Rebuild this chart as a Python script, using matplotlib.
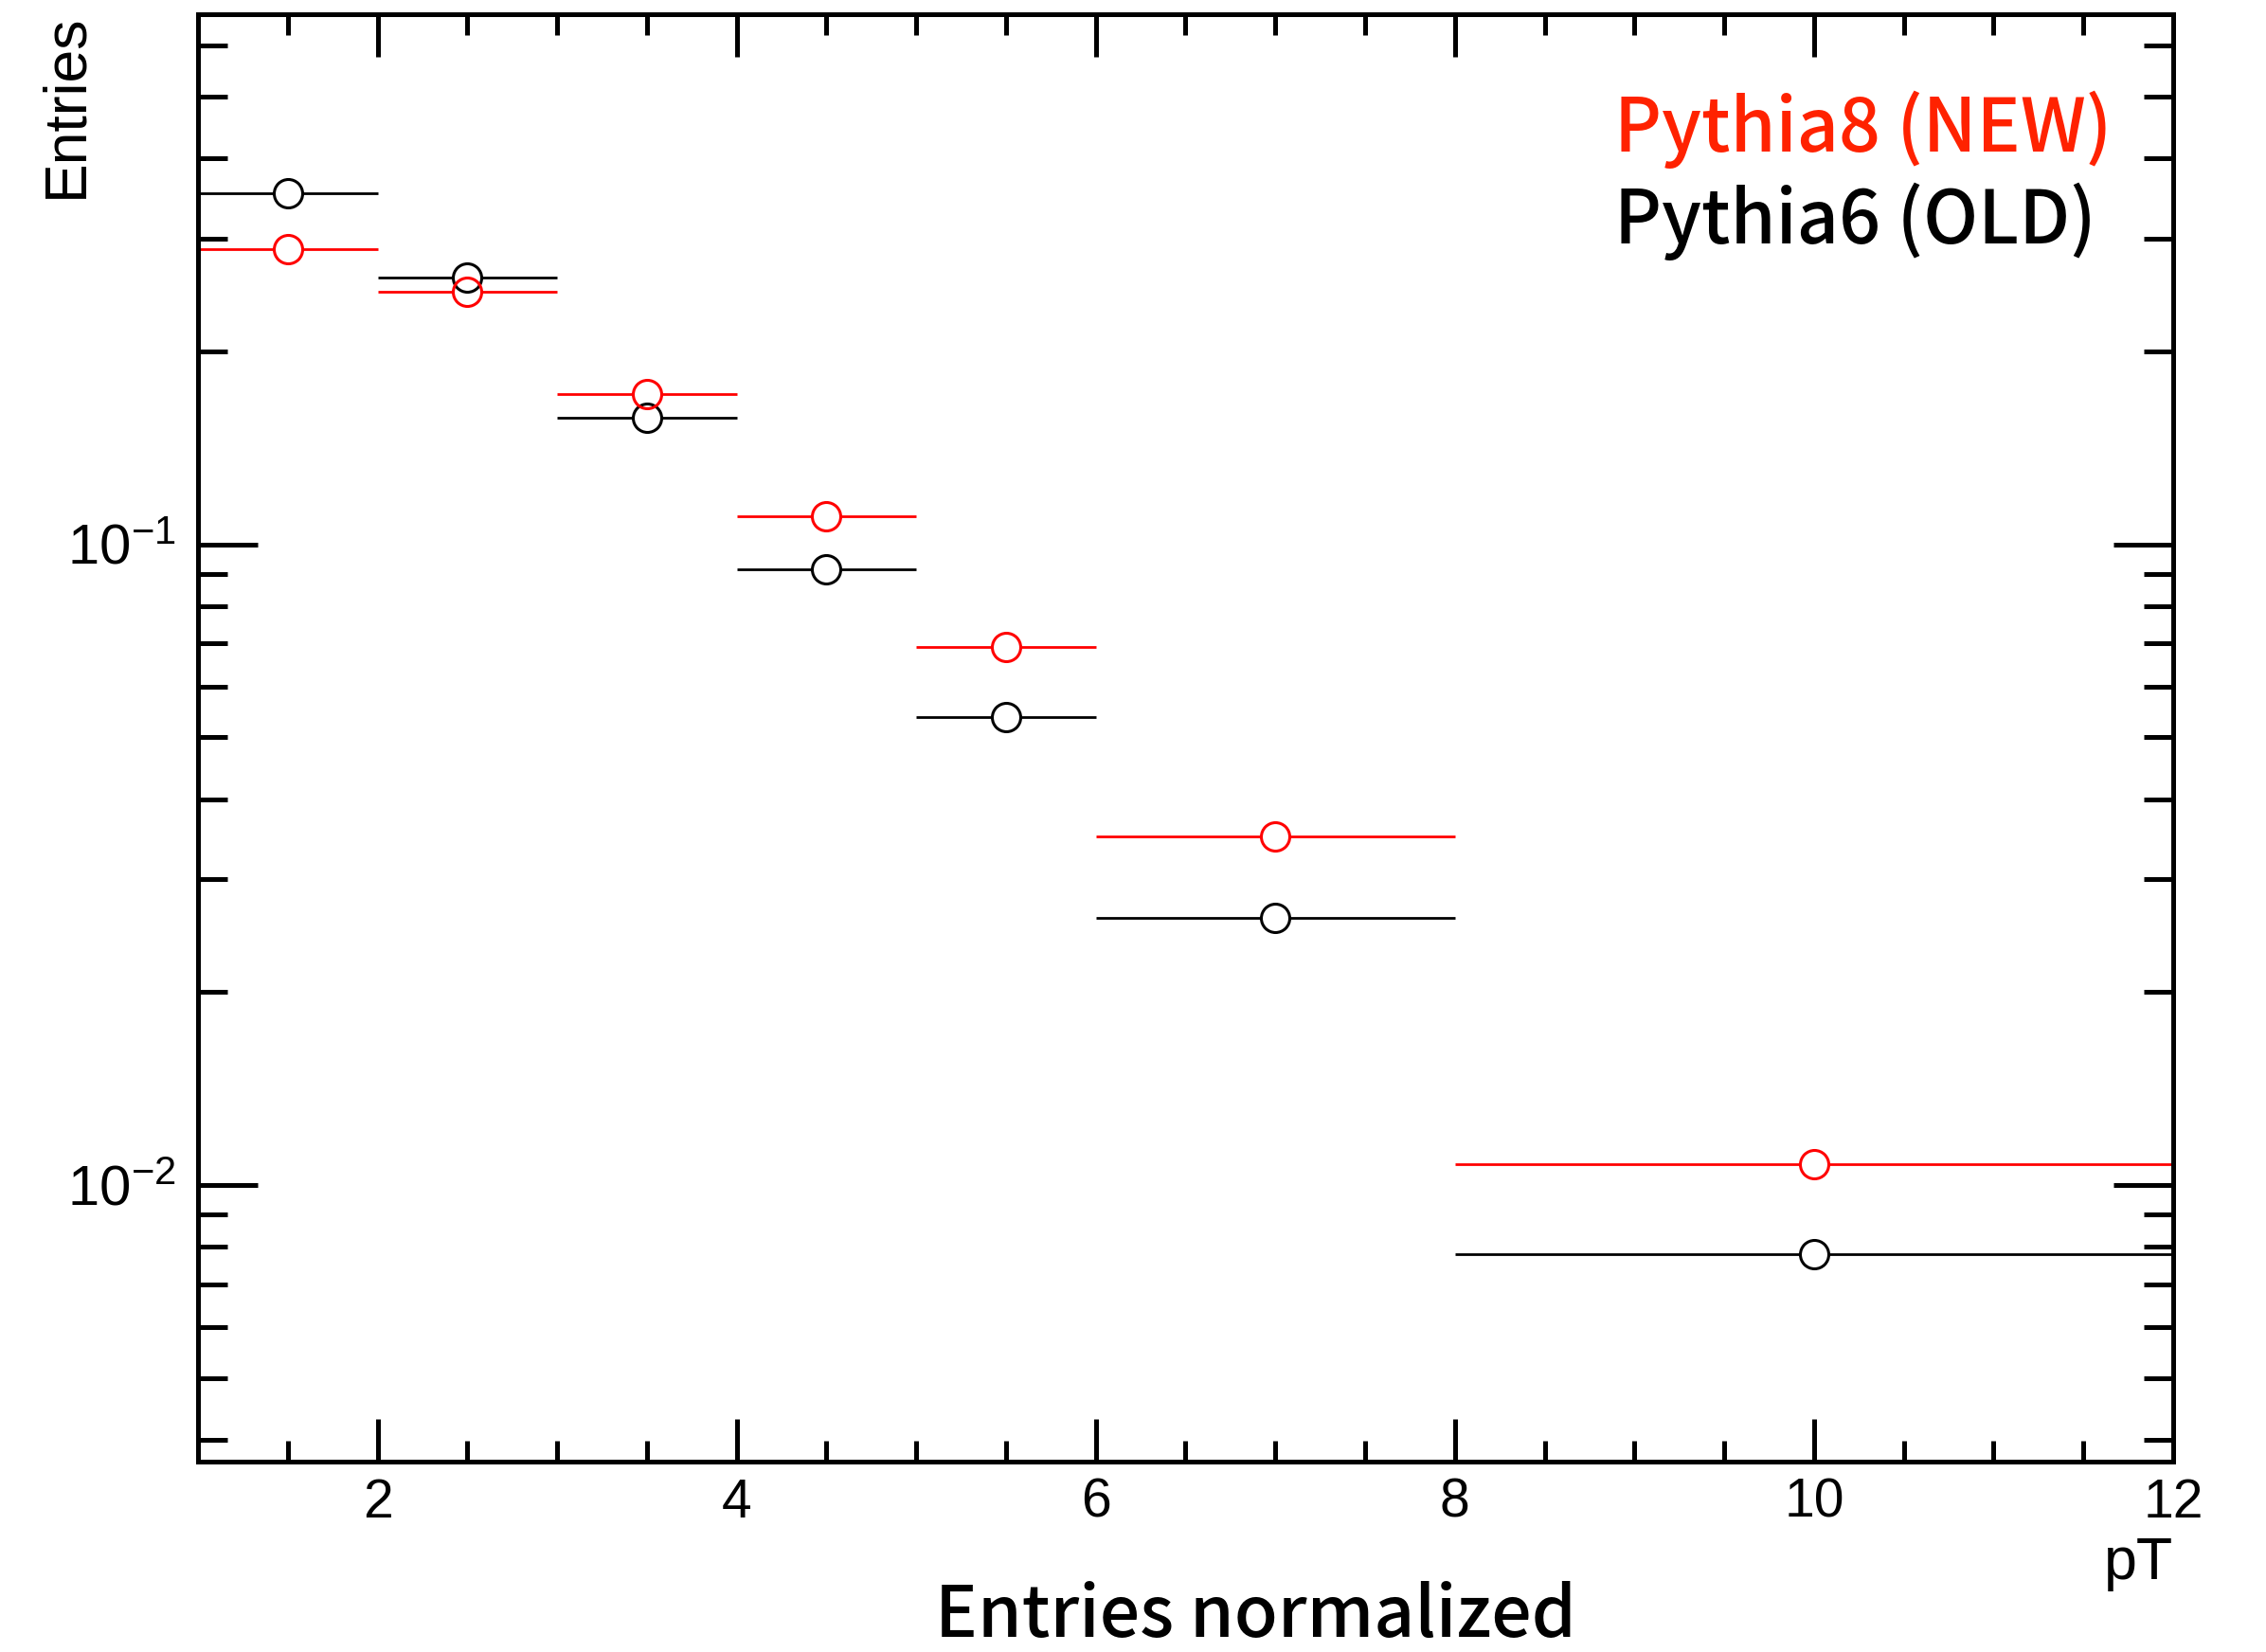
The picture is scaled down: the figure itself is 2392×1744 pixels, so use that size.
import matplotlib
matplotlib.use('Agg')
import matplotlib.pyplot as plt
import numpy as np
from matplotlib.ticker import MultipleLocator, LogLocator, NullFormatter, FixedLocator

plt.rcParams['font.family'] = ['Liberation Sans', 'DejaVu Sans']
plt.rcParams['mathtext.fontset'] = 'custom'
plt.rcParams['mathtext.rm'] = 'Liberation Sans'
plt.rcParams['mathtext.it'] = 'Liberation Sans:italic'
plt.rcParams['mathtext.bf'] = 'Liberation Sans:bold'

# pT bins
bin_lo = [1, 2, 3, 4, 5, 6, 8]
bin_hi = [2, 3, 4, 5, 6, 8, 12]

# normalised entries per bin
pythia8_new = [0.2886, 0.2476, 0.1718, 0.1105, 0.0691, 0.0350, 0.01076]
pythia6_old = [0.353, 0.261, 0.1575, 0.0914, 0.0538, 0.0261, 0.00781]

lo = np.array(bin_lo, dtype=float)
hi = np.array(bin_hi, dtype=float)
centres = (lo + hi) / 2
half = (hi - lo) / 2

RED = '#ff0000'
RED_TEXT = '#ff2200'
LABEL_FONT = ['Noto Sans CJK JP', 'DejaVu Sans']

fig = plt.figure(figsize=(11.96, 8.72), dpi=200)
ax = fig.add_axes([0.08737, 0.11525, 0.87166, 0.87615])

# horizontal bin-width bars
ax.errorbar(centres, pythia6_old, xerr=half, fmt='none', ecolor='black',
            elinewidth=1.0, capsize=0, zorder=2)
ax.errorbar(centres, pythia8_new, xerr=half, fmt='none', ecolor=RED,
            elinewidth=1.0, capsize=0, zorder=2)

# white inside of the open circles, then the outlines
for vals in (pythia6_old, pythia8_new):
    ax.plot(centres, vals, ls='none', marker='o', ms=11.4, mfc='white',
            mec='none', zorder=3)
ax.plot(centres, pythia6_old, ls='none', marker='o', ms=10.8, mfc='none',
        mec='black', mew=1.1, zorder=4)
ax.plot(centres, pythia8_new, ls='none', marker='o', ms=10.8, mfc='none',
        mec=RED, mew=1.1, zorder=4)

ax.set_yscale('log')
ax.set_xlim(1, 12)
ax.set_ylim(0.00370, 0.672)

ax.xaxis.set_major_locator(MultipleLocator(2))
ax.xaxis.set_minor_locator(MultipleLocator(0.5))
ax.yaxis.set_major_locator(FixedLocator([0.01, 0.1]))
ax.yaxis.set_major_formatter(matplotlib.ticker.FixedFormatter(['$10^{-2}$', '$10^{-1}$']))
ax.yaxis.set_minor_locator(LogLocator(base=10, subs=np.arange(2, 10), numticks=20))
ax.yaxis.set_minor_formatter(NullFormatter())

for s in ax.spines.values():
    s.set_linewidth(1.8)

ax.tick_params(which='both', direction='in', top=True, right=True, width=1.8)
ax.tick_params(axis='x', which='major', length=16.2, pad=6, labelsize=20.5)
ax.tick_params(axis='x', which='minor', length=8)
ax.tick_params(axis='y', which='major', length=22.7, pad=8.6, labelsize=21.5)
ax.tick_params(axis='y', which='minor', length=11.2)

# axis titles, ROOT style
fig.text(0.9590, 0.0441, 'pT', ha='right', va='baseline', fontsize=22.6)
fig.text(0.0167, 0.9914, 'Entries', rotation=90, ha='left', va='top',
         fontsize=22.5)
fig.text(0.5543, 0.0095, 'Entries normalized', ha='center', va='baseline',
         fontsize=27, fontweight='medium', family=LABEL_FONT)

# legend texts
fig.text(0.7124, 0.9083, 'Pythia8 (NEW)', ha='left', va='baseline',
         fontsize=27.8, color=RED_TEXT, family=LABEL_FONT, fontweight='medium')
fig.text(0.7124, 0.8526, 'Pythia6 (OLD)', ha='left', va='baseline',
         fontsize=27.8, color='black', family=LABEL_FONT, fontweight='medium')

fig.savefig('out.png', dpi=200)
